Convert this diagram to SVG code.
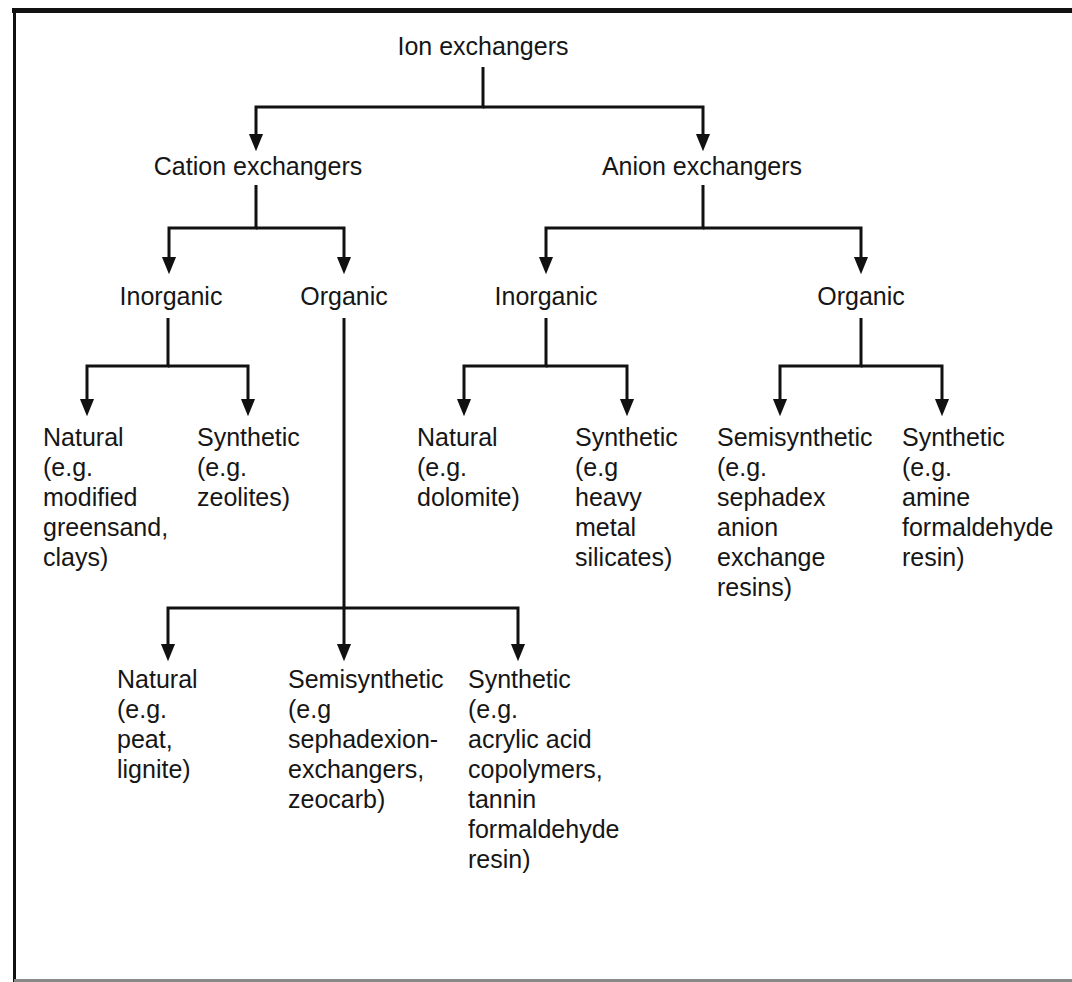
<svg xmlns="http://www.w3.org/2000/svg" width="1072" height="982" viewBox="0 0 1072 982">
<defs>
<style>
.t{font-family:"Liberation Sans",Arial,sans-serif;font-size:25px;fill:#161616;}
.c{text-anchor:middle;}
.ln{fill:none;stroke:#111;stroke-width:3;}
.fr{fill:none;stroke:#111;}
</style>
<marker id="ah" markerUnits="userSpaceOnUse" markerWidth="20" markerHeight="20" viewBox="0 -8 18 16" refX="4" refY="0" orient="auto">
<path d="M0,-6.5 L16,0 L0,6.5 z" fill="#111"/>
</marker>
</defs>
<rect width="1072" height="982" fill="#fff"/>
<g id="frame">
<line class="fr" x1="12" y1="10.5" x2="1072" y2="10.5" stroke-width="5"/>
<line class="fr" x1="14.5" y1="8" x2="14.5" y2="982" stroke-width="3"/>
<line x1="14" y1="980.5" x2="1072" y2="980.5" stroke="#888" stroke-width="3"/>
</g>
<g id="connectors">
<path class="ln" d="M483,67 V107 H256 V138" marker-end="url(#ah)"/>
<path class="ln" d="M483,107 H703 V138" marker-end="url(#ah)"/>
<path class="ln" d="M256,185 V228 H169 V261" marker-end="url(#ah)"/>
<path class="ln" d="M256,228 H344 V261" marker-end="url(#ah)"/>
<path class="ln" d="M703,185 V228 H546 V261" marker-end="url(#ah)"/>
<path class="ln" d="M703,228 H861 V261" marker-end="url(#ah)"/>
<path class="ln" d="M168,318 V366 H87 V403" marker-end="url(#ah)"/>
<path class="ln" d="M168,366 H248 V403" marker-end="url(#ah)"/>
<path class="ln" d="M546,318 V366 H464 V403" marker-end="url(#ah)"/>
<path class="ln" d="M546,366 H627 V403" marker-end="url(#ah)"/>
<path class="ln" d="M861,318 V366 H780 V403" marker-end="url(#ah)"/>
<path class="ln" d="M861,366 H942 V403" marker-end="url(#ah)"/>
<path class="ln" d="M344,318 V648" marker-end="url(#ah)"/>
<path class="ln" d="M344,608 H168 V648" marker-end="url(#ah)"/>
<path class="ln" d="M344,608 H518 V648" marker-end="url(#ah)"/>
</g>
<g id="n-ion"><text class="t c" x="483" y="55">Ion exchangers</text></g>
<g id="n-cation"><text class="t c" x="258" y="175">Cation exchangers</text></g>
<g id="n-anion"><text class="t c" x="702" y="175">Anion exchangers</text></g>
<g id="n-cat-inorg"><text class="t c" x="171" y="305">Inorganic</text></g>
<g id="n-cat-org"><text class="t c" x="344" y="305">Organic</text></g>
<g id="n-an-inorg"><text class="t c" x="546" y="305">Inorganic</text></g>
<g id="n-an-org"><text class="t c" x="861" y="305">Organic</text></g>
<g id="n-cat-inorg-nat"><text class="t" x="43" y="446"><tspan x="43">Natural</tspan><tspan x="43" dy="30">(e.g.</tspan><tspan x="43" dy="30">modified</tspan><tspan x="43" dy="30">greensand,</tspan><tspan x="43" dy="30">clays)</tspan></text></g>
<g id="n-cat-inorg-syn"><text class="t" x="197" y="446"><tspan x="197">Synthetic</tspan><tspan x="197" dy="30">(e.g.</tspan><tspan x="197" dy="30">zeolites)</tspan></text></g>
<g id="n-an-inorg-nat"><text class="t" x="417" y="446"><tspan x="417">Natural</tspan><tspan x="417" dy="30">(e.g.</tspan><tspan x="417" dy="30">dolomite)</tspan></text></g>
<g id="n-an-inorg-syn"><text class="t" x="575" y="446"><tspan x="575">Synthetic</tspan><tspan x="575" dy="30">(e.g</tspan><tspan x="575" dy="30">heavy</tspan><tspan x="575" dy="30">metal</tspan><tspan x="575" dy="30">silicates)</tspan></text></g>
<g id="n-an-org-semi"><text class="t" x="717" y="446"><tspan x="717">Semisynthetic</tspan><tspan x="717" dy="30">(e.g.</tspan><tspan x="717" dy="30">sephadex</tspan><tspan x="717" dy="30">anion</tspan><tspan x="717" dy="30">exchange</tspan><tspan x="717" dy="30">resins)</tspan></text></g>
<g id="n-an-org-syn"><text class="t" x="902" y="446"><tspan x="902">Synthetic</tspan><tspan x="902" dy="30">(e.g.</tspan><tspan x="902" dy="30">amine</tspan><tspan x="902" dy="30">formaldehyde</tspan><tspan x="902" dy="30">resin)</tspan></text></g>
<g id="n-cat-org-nat"><text class="t" x="117" y="688"><tspan x="117">Natural</tspan><tspan x="117" dy="30">(e.g.</tspan><tspan x="117" dy="30">peat,</tspan><tspan x="117" dy="30">lignite)</tspan></text></g>
<g id="n-cat-org-semi"><text class="t" x="288" y="688"><tspan x="288">Semisynthetic</tspan><tspan x="288" dy="30">(e.g</tspan><tspan x="288" dy="30">sephadexion-</tspan><tspan x="288" dy="30">exchangers,</tspan><tspan x="288" dy="30">zeocarb)</tspan></text></g>
<g id="n-cat-org-syn"><text class="t" x="468" y="688"><tspan x="468">Synthetic</tspan><tspan x="468" dy="30">(e.g.</tspan><tspan x="468" dy="30">acrylic acid</tspan><tspan x="468" dy="30">copolymers,</tspan><tspan x="468" dy="30">tannin</tspan><tspan x="468" dy="30">formaldehyde</tspan><tspan x="468" dy="30">resin)</tspan></text></g>
</svg>
